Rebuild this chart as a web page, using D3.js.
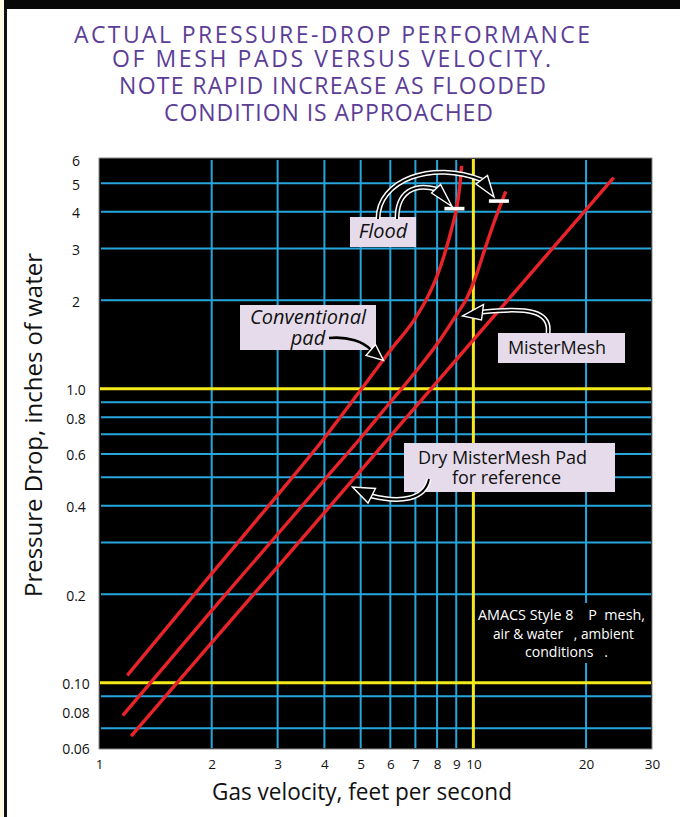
<!DOCTYPE html>
<html>
<head>
<meta charset="utf-8">
<script src="https://cdn.jsdelivr.net/npm/d3@7"></script>
<style>
  body { margin: 0; background: #fff; }
  svg text { font-family: "Open Sans", "DejaVu Sans", sans-serif; }
</style>
</head>
<body>
<div id="chart"></div>
<script>
// axis ticks and grid values
var xTicks = [1, 2, 3, 4, 5, 6, 7, 8, 9, 10, 20, 30];
var xGridBlue = [2, 3, 4, 5, 6, 7, 8, 9, 20];
var xGridYellow = [10];
var yTicks = [6, 5, 4, 3, 2, 1, 0.8, 0.6, 0.4, 0.2, 0.1, 0.08, 0.06];
var yTickLabels = ["6", "5", "4", "3", "2", "1.0", "0.8", "0.6", "0.4", "0.2", "0.10", "0.08", "0.06"];
var yGridBlue = [5, 4, 3, 2, 0.9, 0.8, 0.7, 0.6, 0.5, 0.4, 0.3, 0.2, 0.09, 0.07];
var yGridYellow = [1, 0.1];

// curves: gas velocity (ft/s) vs pressure drop (in. water)
var convVel  = [1.19, 2, 3, 4, 5, 6, 7, 7.5, 8, 8.45, 8.8, 9.0, 9.2, 9.3];
var convDrop = [0.106, 0.235, 0.435, 0.68, 0.99, 1.35, 1.74, 2.02, 2.42, 2.98, 3.6, 4.05, 4.9, 5.73];
var meshVel  = [1.157, 2, 3, 4, 5, 6, 7, 8, 9, 9.65, 10.2, 10.7, 11.5, 12.2];
var meshDrop = [0.0774, 0.176, 0.32, 0.49, 0.68, 0.90, 1.14, 1.42, 1.78, 2.06, 2.45, 2.95, 3.85, 4.69];
var dryVel   = [1.218, 2, 3, 5, 10, 20, 23.7];
var dryDrop  = [0.0658, 0.137, 0.248, 0.527, 1.466, 4.07, 5.23];

// flood points
var floodVel  = [8.9, 11.7];
var floodDrop = [4.1, 4.35];

var svgWidth = 680;
var svgHeight = 817;

var svg = d3.select("#chart")
  .append("svg")
  .attr("width", svgWidth)
  .attr("height", svgHeight);

// page frame bits
svg.append("rect").attr("x", 0).attr("y", 0).attr("width", 4).attr("height", svgHeight).attr("fill", "#fdfbe4");
svg.append("rect").attr("x", 4).attr("y", 0).attr("width", 3).attr("height", svgHeight).attr("fill", "#111");
svg.append("rect").attr("x", 4).attr("y", 0).attr("width", svgWidth - 4).attr("height", 9).attr("fill", "#080808");

// title
var titleLines = [
  {t: "ACTUAL  PRESSURE-DROP  PERFORMANCE", x0: 74, x1: 590, y: 43},
  {t: "OF  MESH  PADS  VERSUS  VELOCITY.", x0: 112, x1: 551, y: 67},
  {t: "NOTE  RAPID  INCREASE  AS  FLOODED", x0: 119, x1: 546, y: 94},
  {t: "CONDITION  IS  APPROACHED", x0: 164, x1: 493, y: 121}
];
svg.selectAll(".title")
  .data(titleLines)
  .enter()
  .append("text")
  .attr("class", "title")
  .attr("x", d => d.x0)
  .attr("y", d => d.y)
  .attr("textLength", d => d.x1 - d.x0)
  .attr("lengthAdjust", "spacing")
  .attr("font-size", 23)
  .attr("fill", "#5b3d98")
  .text(d => d.t);

// plot area
var plotL = 99, plotR = 652, plotT = 158, plotB = 749;

var x = d3.scaleLog().domain([1, 30]).range([99, 652]);
var y = d3.scaleLog().domain([0.06, 6]).range([748, 160]);

svg.append("rect")
  .attr("x", plotL).attr("y", plotT)
  .attr("width", plotR - plotL).attr("height", plotB - plotT)
  .attr("fill", "#000")
  .attr("stroke", "#8a8a8a")
  .attr("stroke-width", 1);

var grid = svg.append("g");
var blue = "#27a6dc";
var yellow = "#f4ea1b";

grid.selectAll(".vgrid")
  .data(xGridBlue)
  .enter()
  .append("line")
  .attr("x1", d => x(d)).attr("x2", d => x(d))
  .attr("y1", plotT + 2).attr("y2", plotB - 1)
  .attr("stroke", blue).attr("stroke-width", 2);

grid.selectAll(".hgrid")
  .data(yGridBlue)
  .enter()
  .append("line")
  .attr("x1", plotL + 2).attr("x2", plotR - 1)
  .attr("y1", d => y(d)).attr("y2", d => y(d))
  .attr("stroke", blue).attr("stroke-width", 2);

// black panel behind the note text
svg.append("rect")
  .attr("x", 476).attr("y", 603)
  .attr("width", 174).attr("height", 60)
  .attr("fill", "#000");

svg.append("g").selectAll("line")
  .data(yGridYellow)
  .enter()
  .append("line")
  .attr("x1", plotL + 1).attr("x2", plotR - 1)
  .attr("y1", d => y(d)).attr("y2", d => y(d))
  .attr("stroke", yellow).attr("stroke-width", 3);

svg.append("g").selectAll("line")
  .data(xGridYellow)
  .enter()
  .append("line")
  .attr("x1", d => x(d)).attr("x2", d => x(d))
  .attr("y1", plotT + 1).attr("y2", plotB - 1)
  .attr("stroke", yellow).attr("stroke-width", 3);

// axes (labels only)
var bottomAxis = d3.axisBottom(x)
  .tickValues(xTicks)
  .tickFormat(d3.format("d"))
  .tickSize(0)
  .tickPadding(0);
var xAxis = svg.append("g")
  .attr("transform", "translate(0, 759.5)")
  .call(bottomAxis);
xAxis.select(".domain").remove();
xAxis.selectAll("text")
  .attr("font-family", "Liberation Sans, Arial, sans-serif")
  .attr("font-size", 13.5)
  .attr("fill", "#111");

var leftAxis = d3.axisLeft(y)
  .tickValues(yTicks)
  .tickFormat((d, i) => yTickLabels[i])
  .tickSize(0)
  .tickPadding(0);
var yAxis = svg.append("g")
  .attr("transform", "translate(76, 1.5)")
  .call(leftAxis);
yAxis.select(".domain").remove();
yAxis.selectAll("text")
  .attr("text-anchor", "middle")
  .attr("font-family", "Liberation Sans, Arial, sans-serif")
  .attr("font-size", 14)
  .attr("fill", "#111");

// axis titles
svg.append("text")
  .attr("x", 212).attr("y", 800)
  .attr("textLength", 300)
  .attr("lengthAdjust", "spacingAndGlyphs")
  .attr("font-size", 24)
  .attr("fill", "#111")
  .text("Gas velocity, feet per second");

svg.append("text")
  .attr("transform", "translate(42, 597) rotate(-90)")
  .attr("textLength", 344)
  .attr("lengthAdjust", "spacingAndGlyphs")
  .attr("font-size", 23)
  .attr("fill", "#111")
  .text("Pressure Drop, inches of water");

// curves
var line = d3.line()
  .x(d => x(d[0]))
  .y(d => y(d[1]))
  .curve(d3.curveMonotoneX);

var series = [
  d3.zip(convVel, convDrop),
  d3.zip(meshVel, meshDrop),
  d3.zip(dryVel, dryDrop)
];

svg.append("g").selectAll("path")
  .data(series)
  .enter()
  .append("path")
  .attr("d", line)
  .attr("fill", "none")
  .attr("stroke", "#e8232a")
  .attr("stroke-width", 3.4);

// flood markers
svg.append("g").selectAll("rect")
  .data(d3.zip(floodVel, floodDrop))
  .enter()
  .append("rect")
  .attr("x", d => x(d[0]) - 10)
  .attr("y", d => y(d[1]) - 1.8)
  .attr("width", 20)
  .attr("height", 3.6)
  .attr("fill", "#fff");

// label boxes
var boxFill = "#e5dbea";
var boxes = [
  {x: 350, y: 217, w: 66, h: 30},
  {x: 240, y: 305, w: 136, h: 45},
  {x: 498, y: 333, w: 127, h: 30},
  {x: 404, y: 443, w: 211, h: 49}
];
svg.append("g").selectAll("rect")
  .data(boxes)
  .enter()
  .append("rect")
  .attr("x", d => d.x).attr("y", d => d.y)
  .attr("width", d => d.w).attr("height", d => d.h)
  .attr("fill", boxFill);

// arrows
function arrow(d, head, solid) {
  var g = svg.append("g");
  if (solid) {
    g.append("path").attr("d", d).attr("fill", "none")
      .attr("stroke", "#000").attr("stroke-width", 2.6);
  } else {
    g.append("path").attr("d", d).attr("fill", "none")
      .attr("stroke", "#fff").attr("stroke-width", 5);
    g.append("path").attr("d", d).attr("fill", "none")
      .attr("stroke", "#000").attr("stroke-width", 2);
  }
  g.append("polygon")
    .attr("points", head.map(p => p.join(",")).join(" "))
    .attr("fill", "#000")
    .attr("stroke", "#fff")
    .attr("stroke-width", 1.4)
    .attr("stroke-linejoin", "miter");
}

arrow("M378,219 C378,180 432,160 482,180", [[476,184], [487.5,175.5], [494,197]]);
arrow("M397,219 C397,192 414,183 436,189", [[431.5,193], [440.5,184.5], [452,206.5]]);
arrow("M548,333 C551,311 528,307 482.5,312", [[483.5,304.5], [481.5,320], [462.5,316]]);
arrow("M429,479 C425,500 400,503 371.5,496", [[375.5,488.5], [368,503], [352.5,487]]);
arrow("M329,338 C348,336 364,342 371,350", [[366,355.5], [375.5,344.5], [383.5,360.5]], true);

// annotation text
var ann = svg.append("g").attr("fill", "#111");
ann.append("text")
  .attr("x", 383).attr("y", 238)
  .attr("text-anchor", "middle")
  .attr("font-family", "Liberation Sans, Arial, sans-serif")
  .attr("font-style", "italic")
  .attr("font-size", 20)
  .text("Flood");
ann.append("text")
  .attr("x", 308).attr("y", 324)
  .attr("text-anchor", "middle")
  .attr("font-family", "Liberation Sans, Arial, sans-serif")
  .attr("font-style", "italic")
  .attr("font-size", 20)
  .text("Conventional");
ann.append("text")
  .attr("x", 308).attr("y", 345)
  .attr("text-anchor", "middle")
  .attr("font-family", "Liberation Sans, Arial, sans-serif")
  .attr("font-style", "italic")
  .attr("font-size", 20)
  .text("pad");
ann.append("text")
  .attr("x", 508).attr("y", 353.5)
  .attr("textLength", 98)
  .attr("font-size", 18)
  .text("MisterMesh");
ann.append("text")
  .attr("x", 418).attr("y", 464)
  .attr("textLength", 169)
  .attr("font-size", 18)
  .text("Dry MisterMesh Pad");
ann.append("text")
  .attr("x", 452).attr("y", 483.5)
  .attr("textLength", 109)
  .attr("font-size", 18)
  .text("for reference");

// note on conditions
var noteLines = [
  {t: "AMACS Style 8    P  mesh,", x0: 478, w: 167, y: 620},
  {t: "air & water   , ambient", x0: 493, w: 141, y: 638.5},
  {t: "conditions   .", x0: 525, w: 83, y: 657}
];
svg.append("g").selectAll("text")
  .data(noteLines)
  .enter()
  .append("text")
  .attr("x", d => d.x0)
  .attr("y", d => d.y)
  .attr("textLength", d => d.w)
  .attr("lengthAdjust", "spacingAndGlyphs")
  .style("white-space", "pre")
  .attr("font-size", 14)
  .attr("fill", "#fff")
  .text(d => d.t);
</script>
</body>
</html>
